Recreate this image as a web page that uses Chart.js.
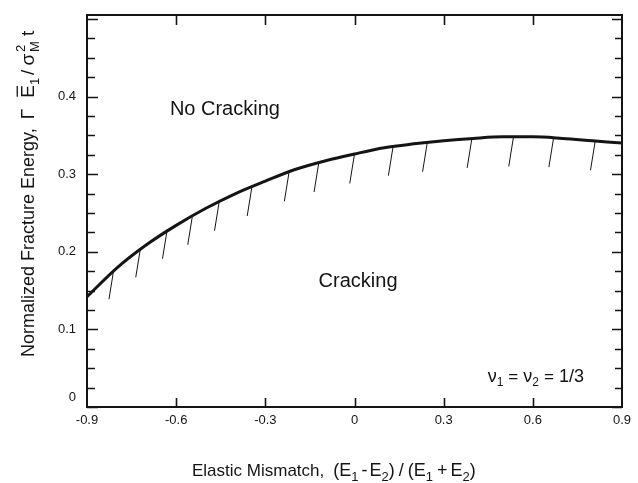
<!DOCTYPE html>
<html>
<head>
<meta charset="utf-8">
<script src="https://cdn.jsdelivr.net/npm/chart.js@4/dist/chart.umd.min.js"></script>
<style>
  html, body { margin: 0; padding: 0; background: #fff; }
  #wrap { width: 638px; height: 483px; }
</style>
</head>
<body>
<div id="wrap"><canvas id="c" width="638" height="483"></canvas></div>
<script>
// ---- Data ----
const curveX = [-0.9, -0.8, -0.7, -0.6, -0.5, -0.4, -0.3, -0.2, -0.1, 0.0, 0.1, 0.2, 0.3, 0.4, 0.5, 0.6, 0.7, 0.8, 0.9];
const curveY = [0.142, 0.179, 0.209, 0.234, 0.256, 0.275, 0.291, 0.306, 0.317, 0.326, 0.334, 0.339, 0.343, 0.346, 0.348, 0.348, 0.346, 0.343, 0.340];

// hatch marks (start on the curve, slanting down-left)
const hatchX = [-0.81, -0.72, -0.63, -0.545, -0.455, -0.345, -0.22, -0.12, 0.0, 0.13, 0.245, 0.395, 0.535, 0.67, 0.81];
const hatchY = [0.177, 0.205, 0.229, 0.247, 0.265, 0.284, 0.303, 0.315, 0.326, 0.336, 0.341, 0.346, 0.348, 0.347, 0.343];
const hatchDX = -0.016;
const hatchDY = -0.038;

const xTickValues = [-0.9, -0.6, -0.3, 0, 0.3, 0.6, 0.9];
const xTickLabels = ['-0.9', '-0.6', '-0.3', '0', '0.3', '0.6', '0.9'];
const yTickValues = [0, 0.1, 0.2, 0.3, 0.4];
const yTickLabels = ['0', '0.1', '0.2', '0.3', '0.4'];
const yMinorStep = 0.025;
const xMin = -0.9, xMax = 0.9, yMin = 0, yMax = 0.505;

const regionLabels = ['No Cracking', 'Cracking'];
const regionLabelX = [-0.436, 0.012];
const regionLabelY = [0.383, 0.162];
const noteX = 0.61, noteY = 0.04;

// ---- Rendering ----
const FONT = '"Liberation Sans", Arial, Helvetica, sans-serif';
const INK = '#141414';

function segWidth(ctx, s, size) {
  if (s.k === 'gap') return s.w;
  const sz = s.size || size;
  const small = Math.round(sz * 0.7);
  if (s.k === 'sub' || s.k === 'sup') { ctx.font = small + 'px ' + FONT; return ctx.measureText(s.t).width; }
  if (s.k === 'stack') {
    ctx.font = small + 'px ' + FONT;
    return Math.max(ctx.measureText(s.sup).width, ctx.measureText(s.sub).width);
  }
  ctx.font = sz + 'px ' + FONT; return ctx.measureText(s.t).width;
}
function drawRich(ctx, segs, x, y, size, align) {
  let total = 0;
  segs.forEach(s => total += segWidth(ctx, s, size));
  let cx = align === 'center' ? x - total / 2 : (align === 'right' ? x - total : x);
  const base = y + size * 0.36;
  ctx.fillStyle = INK; ctx.strokeStyle = INK;
  ctx.textAlign = 'left'; ctx.textBaseline = 'alphabetic';
  segs.forEach(s => {
    const w = segWidth(ctx, s, size);
    const sz = s.size || size;
    const small = Math.round(sz * 0.7);
    if (s.k === 'gap') { /* spacing only */ }
    else if (s.k === 'sub') { ctx.font = small + 'px ' + FONT; ctx.fillText(s.t, cx, base + sz * 0.26); }
    else if (s.k === 'sup') { ctx.font = small + 'px ' + FONT; ctx.fillText(s.t, cx, base - sz * 0.45); }
    else if (s.k === 'stack') {
      ctx.font = small + 'px ' + FONT;
      ctx.fillText(s.sup, cx, base - sz * 0.45);
      ctx.fillText(s.sub, cx, base + sz * 0.26);
    } else {
      ctx.font = sz + 'px ' + FONT; ctx.fillText(s.t, cx, base);
      if (s.k === 'bar') {
        ctx.lineWidth = 1.3;
        ctx.beginPath();
        ctx.moveTo(cx + 1, base - sz * 0.88);
        ctx.lineTo(cx + w - 1, base - sz * 0.88);
        ctx.stroke();
      }
    }
    cx += w;
  });
}

const xTitle = [
  {t: 'Elastic Mismatch,', size: 17}, {k: 'gap', w: 9},
  {t: '(E', size: 18}, {k: 'sub', t: '1', size: 18}, {k: 'gap', w: 3}, {t: '-', size: 18}, {k: 'gap', w: 2},
  {t: 'E', size: 18}, {k: 'sub', t: '2', size: 18}, {t: ')', size: 18}, {k: 'gap', w: 4},
  {t: '/', size: 18}, {k: 'gap', w: 4},
  {t: '(E', size: 18}, {k: 'sub', t: '1', size: 18}, {k: 'gap', w: 4}, {t: '+', size: 18}, {k: 'gap', w: 3},
  {t: 'E', size: 18}, {k: 'sub', t: '2', size: 18}, {t: ')', size: 18}
];
const yTitle = [
  {t: 'Normalized Fracture Energy,', size: 18}, {k: 'gap', w: 9},
  {t: '\u0393', size: 19}, {k: 'gap', w: 11},
  {k: 'bar', t: 'E', size: 19}, {k: 'sub', t: '1', size: 19}, {k: 'gap', w: 3},
  {t: '/', size: 19}, {k: 'gap', w: 4},
  {t: '\u03c3', size: 19}, {k: 'gap', w: 2}, {k: 'stack', sup: '2', sub: 'M', size: 19}, {k: 'gap', w: 5},
  {t: 't', size: 19}
];
const note = [
  {t: '\u03bd', size: 18}, {k: 'sub', t: '1', size: 17}, {k: 'gap', w: 5}, {t: '=', size: 17}, {k: 'gap', w: 5},
  {t: '\u03bd', size: 18}, {k: 'sub', t: '2', size: 17}, {k: 'gap', w: 5}, {t: '=', size: 17}, {k: 'gap', w: 5},
  {t: '1/3', size: 18}
];

const decor = {
  id: 'decor',
  afterDatasetsDraw(chart) {
    const ctx = chart.ctx;
    const {left, right, top, bottom} = chart.chartArea;
    const xs = chart.scales.x, ys = chart.scales.y;
    ctx.save();
    ctx.strokeStyle = INK;
    // frame
    ctx.lineWidth = 2;
    ctx.strokeRect(left, top, right - left, bottom - top);
    // y ticks (left & right), inside
    ctx.lineWidth = 1.6;
    const nMinor = Math.round((yMax - yMin) / yMinorStep);
    for (let i = 0; i <= nMinor; i++) {
      const v = yMin + i * yMinorStep;
      if (v > yMax) break;
      const py = Math.round(ys.getPixelForValue(v)) + 0.5;
      const major = Math.abs(v * 10 - Math.round(v * 10)) < 1e-6;
      ctx.beginPath();
      ctx.moveTo(left, py); ctx.lineTo(left + (major ? 11 : 8), py);
      ctx.moveTo(right, py); ctx.lineTo(right - (major ? 10 : 7), py);
      ctx.stroke();
    }
    // x ticks (bottom & top), inside
    xTickValues.forEach(v => {
      if (v === xMin || v === xMax) return;
      const px = Math.round(xs.getPixelForValue(v)) + 0.5;
      ctx.beginPath();
      ctx.moveTo(px, bottom); ctx.lineTo(px, bottom - 9);
      ctx.moveTo(px, top); ctx.lineTo(px, top + 10);
      ctx.stroke();
    });
    // y tick labels
    ctx.fillStyle = INK;
    ctx.font = '13px ' + FONT;
    ctx.textAlign = 'right'; ctx.textBaseline = 'middle';
    yTickValues.forEach((v, i) => {
      const py = ys.getPixelForValue(v) - (v === 0 ? 10 : 0);
      ctx.fillText(yTickLabels[i], left - 11, py);
    });
    // region labels
    ctx.font = '20px ' + FONT;
    ctx.textAlign = 'center'; ctx.textBaseline = 'middle';
    regionLabels.forEach((t, i) => {
      ctx.fillText(t, xs.getPixelForValue(regionLabelX[i]), ys.getPixelForValue(regionLabelY[i]));
    });
    // note
    drawRich(ctx, note, xs.getPixelForValue(noteX), ys.getPixelForValue(noteY), 17, 'center');
    // axis titles
    drawRich(ctx, xTitle, 192, 470, 18, 'left');
    ctx.save();
    ctx.translate(27.5, 0);
    ctx.rotate(-Math.PI / 2);
    drawRich(ctx, yTitle, -357, 0, 18, 'left');
    ctx.restore();
    ctx.restore();
  }
};

const datasets = [{
  data: curveX.map((x, i) => ({x: x, y: curveY[i]})),
  borderColor: INK, borderWidth: 3, pointRadius: 0,
  cubicInterpolationMode: 'monotone', fill: false
}];
hatchX.forEach((x, i) => {
  datasets.push({
    data: [{x: x, y: hatchY[i]}, {x: x + hatchDX, y: hatchY[i] + hatchDY}],
    borderColor: INK, borderWidth: 1, pointRadius: 0, fill: false, tension: 0
  });
});

new Chart(document.getElementById('c'), {
  type: 'line',
  data: {datasets: datasets},
  plugins: [decor],
  options: {
    responsive: false,
    animation: false,
    events: [],
    layout: {padding: {left: 0, top: 15, right: 16, bottom: 0}},
    plugins: {legend: {display: false}, tooltip: {enabled: false}},
    scales: {
      x: {
        type: 'linear', min: xMin, max: xMax,
        grid: {display: false, drawTicks: false},
        border: {display: false},
        afterBuildTicks: s => { s.ticks = xTickValues.map(v => ({value: v})); },
        afterFit: s => { s.height = 76; s.paddingLeft = 0; s.paddingRight = 0; },
        ticks: {
          autoSkip: false, maxRotation: 0, padding: 6, color: INK,
          font: {family: FONT, size: 13},
          callback: (v, i) => xTickLabels[i]
        }
      },
      y: {
        type: 'linear', min: yMin, max: yMax,
        grid: {display: false, drawTicks: false},
        border: {display: false},
        afterFit: s => { s.width = 87; },
        ticks: {display: false}
      }
    }
  }
});
</script>
</body>
</html>
